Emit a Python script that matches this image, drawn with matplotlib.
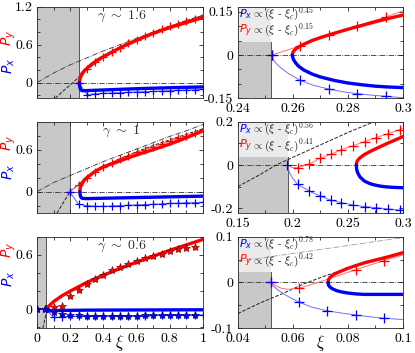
import matplotlib.pyplot as plt
import numpy as np

plt.rcParams['font.family'] = 'serif'
plt.rcParams['font.serif'] = ['cmr10']
plt.rcParams['mathtext.fontset'] = 'cm'
plt.rcParams['axes.unicode_minus'] = False

# ---- data ----
xi_c = [0.252, 0.196, 0.052]
gamma = ['1.6', '1', '0.6']
exps = [('0.45', '0.15'), ('0.56', '0.41'), ('0.78', '0.42')]

# left column: gamma ~ 1.6
l1_red_x = [0.255, 0.258, 0.262, 0.27, 0.29, 0.32, 0.36, 0.4, 0.5, 0.6, 0.7, 0.8, 0.9, 1.0]
l1_red_y = [0.0, 0.05, 0.09, 0.14, 0.2, 0.27, 0.35, 0.41, 0.55, 0.67, 0.78, 0.87, 0.95, 1.03]
l1_blue_x = [0.255, 0.257, 0.262, 0.27, 0.3, 0.4, 0.5, 0.6, 0.7, 0.8, 0.9, 1.0]
l1_blue_y = [0.0, -0.06, -0.11, -0.13, -0.128, -0.118, -0.108, -0.098, -0.09, -0.082, -0.076, -0.07]
l1_xs = [0.252, 0.3, 0.35, 0.4, 0.45, 0.5, 0.55, 0.6, 0.65, 0.7, 0.75, 0.8, 0.85, 0.9, 0.95, 1.0]
l1_rx_y = [0.0, 0.22, 0.32, 0.41, 0.48, 0.55, 0.62, 0.68, 0.74, 0.79, 0.84, 0.89, 0.93, 0.97, 1.01, 1.05]
l1_bx_y = [0.0, -0.19, -0.18, -0.17, -0.165, -0.16, -0.155, -0.15, -0.145, -0.14, -0.135,
           -0.13, -0.125, -0.12, -0.115, -0.11]
l1_dd_x = [0.0, 0.1, 0.2, 0.3, 0.4, 0.5, 0.6, 0.7, 0.8, 0.9, 1.0]
l1_dd_y = [0.0, 0.15, 0.28, 0.39, 0.5, 0.6, 0.7, 0.8, 0.89, 0.98, 1.07]
l1_da_x = [0.11, 0.15, 0.2, 0.25, 0.3, 0.35, 0.4, 0.5, 0.6, 0.7, 0.8, 0.9, 1.0]
l1_da_y = [-0.25, -0.15, -0.04, 0.08, 0.2, 0.3, 0.39, 0.55, 0.68, 0.79, 0.89, 0.98, 1.06]

# left column: gamma ~ 1
l2_red_x = [0.258, 0.26, 0.265, 0.28, 0.3, 0.35, 0.4, 0.5, 0.6, 0.7, 0.8, 0.9, 1.0]
l2_red_y = [0.0, 0.05, 0.09, 0.15, 0.2, 0.29, 0.355, 0.44, 0.525, 0.6, 0.68, 0.77, 0.87]
l2_blue_x = [0.258, 0.26, 0.265, 0.275, 0.3, 0.4, 0.6, 0.8, 1.0]
l2_blue_y = [0.0, -0.05, -0.085, -0.097, -0.1, -0.095, -0.085, -0.075, -0.065]
l2_xs = [0.196, 0.25, 0.3, 0.35, 0.4, 0.45, 0.5, 0.55, 0.6, 0.65, 0.7, 0.75, 0.8, 0.85, 0.9, 0.95, 1.0]
l2_rx_y = [0.0, 0.09, 0.2, 0.28, 0.35, 0.41, 0.46, 0.51, 0.56, 0.6, 0.64, 0.68, 0.72, 0.76, 0.8, 0.84, 0.88]
l2_bx_y = [0.0, -0.18, -0.2, -0.21, -0.21, -0.205, -0.2, -0.195, -0.19, -0.185, -0.18, -0.175,
           -0.17, -0.165, -0.16, -0.158, -0.155]
l2_dd_x = [0.0, 0.1, 0.2, 0.3, 0.4, 0.5, 0.6, 0.7, 0.8, 0.9, 1.0]
l2_dd_y = [0.0, 0.13, 0.23, 0.33, 0.43, 0.52, 0.61, 0.7, 0.79, 0.87, 0.96]
l2_da_x = [0.12, 0.16, 0.2, 0.26, 0.31, 0.4, 0.5, 0.6, 0.7, 0.8, 0.9, 1.0]
l2_da_y = [-0.31, -0.15, 0.0, 0.13, 0.22, 0.36, 0.47, 0.57, 0.66, 0.74, 0.82, 0.9]

# left column: gamma ~ 0.6
l3_red_x = [0.06, 0.065, 0.08, 0.1, 0.15, 0.2, 0.3, 0.4, 0.5, 0.6, 0.7, 0.8, 0.9, 1.0]
l3_red_y = [0.0, 0.025, 0.05, 0.084, 0.148, 0.2, 0.296, 0.376, 0.45, 0.52, 0.585, 0.65, 0.71, 0.77]
l3_blue_x = [0.06, 0.065, 0.08, 0.1, 0.3, 0.6, 1.0]
l3_blue_y = [0.0, -0.02, -0.018, -0.014, -0.01, -0.008, -0.006]
l3_star_x = [0.0, 0.05, 0.1, 0.15, 0.2, 0.25, 0.3, 0.35, 0.4, 0.45, 0.5, 0.55, 0.6, 0.65, 0.7,
             0.75, 0.8, 0.85, 0.9, 0.95]
l3_rstar_y = [0.0, 0.0, 0.02, 0.04, 0.15, 0.21, 0.28, 0.33, 0.38, 0.43, 0.47, 0.5, 0.53, 0.56,
              0.59, 0.61, 0.64, 0.66, 0.67, 0.69]
l3_bstar_y = [0.0, 0.0, -0.03, -0.055, -0.06, -0.065, -0.07, -0.07, -0.07, -0.072, -0.07, -0.07,
              -0.07, -0.068, -0.068, -0.066, -0.066, -0.064, -0.064, -0.063]
l3_xs = [0.052, 0.1, 0.15, 0.2, 0.25, 0.3, 0.35, 0.4, 0.45, 0.5, 0.55, 0.6, 0.65, 0.7, 0.75, 0.8,
         0.85, 0.9, 0.95, 1.0]
l3_bx_y = [0.0, -0.09, -0.085, -0.08, -0.078, -0.076, -0.075, -0.074, -0.073, -0.072, -0.071,
           -0.07, -0.069, -0.068, -0.067, -0.066, -0.065, -0.064, -0.063, -0.062]
l3_da_x = [0.035, 0.052, 0.07, 0.09, 0.12]
l3_da_y = [-0.21, -0.07, 0.02, 0.07, 0.12]

# right column: zoom near xi_c, gamma ~ 1.6
r1_x = [0.2598, 0.2602, 0.261, 0.262, 0.264, 0.267, 0.27, 0.275, 0.28, 0.285, 0.29, 0.295, 0.3]
r1_red_y = [0.0, 0.012, 0.02, 0.027, 0.037, 0.05, 0.06, 0.075, 0.089, 0.102, 0.115, 0.127, 0.138]
r1_blue_y = [0.0, -0.015, -0.027, -0.038, -0.052, -0.066, -0.076, -0.088, -0.097, -0.103,
             -0.108, -0.111, -0.113]
r1_rx_x = [0.2525, 0.2628, 0.2731, 0.2834, 0.2937, 0.3]
r1_rx_y = [0.0, 0.032, 0.068, 0.101, 0.131, 0.153]
r1_bx_x = [0.2525, 0.253, 0.254, 0.256, 0.259, 0.2628, 0.2675, 0.2731, 0.278, 0.2834, 0.2885,
           0.2937, 0.3]
r1_bx_y = [0.0, -0.018, -0.03, -0.047, -0.068, -0.088, -0.105, -0.118, -0.127, -0.134, -0.139,
           -0.143, -0.148]

# right column: gamma ~ 1
r2_x = [0.2578, 0.258, 0.259, 0.261, 0.265, 0.27, 0.275, 0.28, 0.285, 0.29, 0.295, 0.3]
r2_red_y = [0.0, 0.012, 0.022, 0.033, 0.048, 0.062, 0.074, 0.086, 0.098, 0.109, 0.12, 0.131]
r2_blue_y = [0.0, -0.02, -0.037, -0.055, -0.074, -0.086, -0.093, -0.098, -0.101, -0.103,
             -0.104, -0.105]
r2_rx_x = [0.195, 0.199, 0.2043, 0.2149, 0.2246, 0.2345, 0.2442, 0.2547, 0.2653, 0.2759,
           0.2864, 0.297, 0.3]
r2_rx_y = [0.0, -0.012, -0.012, 0.003, 0.031, 0.049, 0.071, 0.089, 0.108, 0.126, 0.145, 0.163, 0.17]
r2_bx_x = [0.195, 0.197, 0.2, 0.2043, 0.2149, 0.2246, 0.2345, 0.2442, 0.2547, 0.2653, 0.2759,
           0.2864, 0.297, 0.3]
r2_bx_y = [0.0, -0.035, -0.062, -0.089, -0.12, -0.143, -0.162, -0.174, -0.185, -0.192, -0.197,
           -0.203, -0.208, -0.209]
r2_da_x = [0.15, 0.17, 0.185, 0.2, 0.226, 0.25, 0.274]
r2_da_y = [-0.1, -0.045, 0.0, 0.035, 0.095, 0.15, 0.2]

# right column: gamma ~ 0.6
r3_x = [0.0728, 0.073, 0.0735, 0.0745, 0.076, 0.078, 0.08, 0.083, 0.086, 0.09, 0.094, 0.097, 0.1]
r3_red_y = [0.0, 0.006, 0.011, 0.016, 0.021, 0.026, 0.031, 0.037, 0.043, 0.049, 0.055, 0.06, 0.065]
r3_blue_y = [0.0, -0.006, -0.01, -0.014, -0.018, -0.021, -0.023, -0.025, -0.026, -0.026, -0.026,
             -0.026, -0.026]
r3_rx_x = [0.052, 0.054, 0.056, 0.0585, 0.0623, 0.066, 0.0726, 0.078, 0.0829, 0.088, 0.0932, 0.1]
r3_rx_y = [0.0, -0.008, -0.013, -0.015, -0.012, -0.006, 0.007, 0.018, 0.028, 0.038, 0.048, 0.06]
r3_bx_x = [0.052, 0.053, 0.0545, 0.0565, 0.059, 0.0623, 0.067, 0.0726, 0.078, 0.0829, 0.088,
           0.0932, 0.1]
r3_bx_y = [0.0, -0.008, -0.016, -0.024, -0.033, -0.043, -0.054, -0.062, -0.067, -0.071, -0.075,
           -0.078, -0.081]
r3_da_x = [0.04, 0.048, 0.056, 0.064, 0.072, 0.08, 0.09, 0.1]
r3_da_y = [-0.068, -0.045, -0.025, -0.003, 0.015, 0.031, 0.048, 0.064]
r3_dd_x = [0.04, 0.07, 0.1]
r3_dd_y = [0.046, 0.072, 0.098]

RED = '#ff0000'
BLUE = '#0000ff'
GREY = '#c8c8c8'
LIGHT = '#ebebeb'
FRAME = '#262626'


def style(ax, xlim, ylim, xt, xtl, yt, ytl, xminor, yminor):
    ax.set_xlim(xlim)
    ax.set_ylim(ylim)
    ax.set_xticks(xt)
    ax.set_xticklabels(xtl)
    ax.set_yticks(yt)
    ax.set_yticklabels(ytl)
    ax.set_xticks(xminor, minor=True)
    ax.set_yticks(yminor, minor=True)
    ax.tick_params(which='both', direction='in', top=True, right=True, color=FRAME,
                   labelsize=10, width=0.6)
    ax.tick_params(which='major', length=3)
    ax.tick_params(which='minor', length=2)
    ax.tick_params(axis='x', pad=3)
    ax.tick_params(axis='y', pad=3)
    for s in ax.spines.values():
        s.set_color(FRAME)
        s.set_linewidth(0.6)


fig = plt.figure(figsize=(4.15, 3.53), dpi=100)
bottoms = [0.7215, 0.3958, 0.07]
lefts = [0.0892, 0.5728]
w, h = 0.400, 0.2595

# ---------------- left column ----------------
left_data = [
    (l1_red_x, l1_red_y, l1_blue_x, l1_blue_y, l1_xs, l1_rx_y, l1_bx_y, l1_dd_x, l1_dd_y, l1_da_x, l1_da_y),
    (l2_red_x, l2_red_y, l2_blue_x, l2_blue_y, l2_xs, l2_rx_y, l2_bx_y, l2_dd_x, l2_dd_y, l2_da_x, l2_da_y),
]
left_ylims = [(-0.25, 1.2), (-0.31, 1.0), (-0.21, 0.8)]
left_yt = [([0, 0.6, 1.2], ['0', '0.6', '1.2']), ([0, 0.6], ['0', '0.6']), ([0, 0.6], ['0', '0.6'])]
label_pos = [(0.35, 0.66), (0.45, 0.77), (0.54, 0.86)]

for i in range(3):
    ax = fig.add_axes([lefts[0], bottoms[i], w, h])
    ax.axvspan(0, xi_c[i], color=GREY, zorder=0, lw=0)
    ax.axvline(xi_c[i], color='#555555', lw=0.7, zorder=1)
    ax.axhline(0, color='#333333', ls='-.', lw=0.6, zorder=1)
    if i < 2:
        (rx, ry, bx, by, xs, rxy, bxy, ddx, ddy, dax, day) = left_data[i]
        ax.plot(ddx, ddy, color='#333333', ls='-.', lw=0.6, zorder=2)
        ax.plot(dax, day, color='#222222', ls='--', lw=0.7, zorder=2)
        ax.plot(xs, rxy, color='#ff6060', lw=0.7, marker='+', ms=6, mec=RED, mew=0.9, zorder=3)
        ax.plot(xs, bxy, color='#6060ff', lw=0.7, marker='+', ms=6, mec=BLUE, mew=0.9, zorder=3)
        ax.plot(rx, ry, color=RED, lw=2.4, zorder=4, solid_capstyle='round')
        ax.plot(bx, by, color=BLUE, lw=2.4, zorder=4, solid_capstyle='round')
        xtl = [''] * 6
    else:
        ax.plot(l3_da_x, l3_da_y, color='#222222', ls='--', lw=0.7, zorder=2)
        ax.plot(l3_xs, l3_bx_y, color='#6060ff', lw=0.7, marker='+', ms=6, mec=BLUE, mew=0.9, zorder=3)
        ax.plot(l3_red_x, l3_red_y, color=RED, lw=2.4, zorder=4, solid_capstyle='round')
        ax.plot(l3_blue_x, l3_blue_y, color=BLUE, lw=2.4, zorder=4, solid_capstyle='round')
        ax.plot(l3_star_x, l3_rstar_y, ls='none', marker='*', ms=6, mfc=RED, mec='#8b0000',
                mew=0.5, zorder=5)
        ax.plot(l3_star_x, l3_bstar_y, ls='none', marker='*', ms=6, mfc=BLUE, mec='#00008b',
                mew=0.5, zorder=5)
        xtl = ['0', '0.2', '0.4', '0.6', '0.8', '1']
        ax.text(0.5, -0.16, r'$\xi$', transform=ax.transAxes, ha='center', va='center', fontsize=12)
    lo, hi = left_ylims[i]
    style(ax, (0, 1), left_ylims[i], [0, 0.2, 0.4, 0.6, 0.8, 1.0], xtl,
          left_yt[i][0], left_yt[i][1], np.arange(0, 1.01, 0.1),
          [v for v in np.arange(-0.2, 1.21, 0.2) if lo <= v <= hi])
    ax.text(0.51, 0.89, r'$\gamma\ \sim\ ' + gamma[i] + '$', transform=ax.transAxes,
            ha='center', va='center', fontsize=10, color='#333333')
    ax.text(-0.17, label_pos[i][0], r'$P_x$', transform=ax.transAxes, rotation=90, ha='center',
            va='center', fontsize=10, color=BLUE, math_fontfamily='dejavusans')
    ax.text(-0.17, label_pos[i][1], r'$P_y$', transform=ax.transAxes, rotation=90, ha='center',
            va='center', fontsize=10, color=RED, math_fontfamily='dejavusans')

# ---------------- right column ----------------
right_cfg = [
    dict(xlim=(0.24, 0.3), ylim=(-0.15, 0.167), xt=[0.24, 0.26, 0.28, 0.3],
         xtl=['0.24', '0.26', '0.28', '0.3'], yt=[-0.15, 0, 0.15], ytl=['-0.15', '0', '0.15'],
         xm=np.arange(0.24, 0.301, 0.01), ym=np.arange(-0.15, 0.16, 0.05),
         x=r1_x, ry=r1_red_y, by=r1_blue_y, rxx=r1_rx_x, rxy=r1_rx_y, bxx=r1_bx_x, bxy=r1_bx_y,
         rmk=[0, 1, 2, 3, 4], bmk=[0, 5, 7, 9, 11]),
    dict(xlim=(0.15, 0.3), ylim=(-0.223, 0.2), xt=[0.15, 0.2, 0.25, 0.3],
         xtl=['0.15', '0.2', '0.25', '0.3'], yt=[-0.2, 0, 0.2], ytl=['-0.2', '0', '0.2'],
         xm=np.arange(0.15, 0.301, 0.025), ym=np.arange(-0.2, 0.21, 0.1),
         x=r2_x, ry=r2_red_y, by=r2_blue_y, rxx=r2_rx_x, rxy=r2_rx_y, bxx=r2_bx_x, bxy=r2_bx_y,
         rmk=list(range(2, 12)), bmk=[0] + list(range(3, 13))),
    dict(xlim=(0.04, 0.1), ylim=(-0.1, 0.1), xt=[0.04, 0.06, 0.08, 0.1],
         xtl=['0.04', '0.06', '0.08', '0.1'], yt=[-0.1, 0, 0.1], ytl=['-0.1', '0', '0.1'],
         xm=np.arange(0.04, 0.101, 0.01), ym=np.arange(-0.1, 0.11, 0.05),
         x=r3_x, ry=r3_red_y, by=r3_blue_y, rxx=r3_rx_x, rxy=r3_rx_y, bxx=r3_bx_x, bxy=r3_bx_y,
         rmk=[0, 4, 8, 10], bmk=[0, 5, 7, 9, 11]),
]

for i, c in enumerate(right_cfg):
    ax = fig.add_axes([lefts[1], bottoms[i], 0.398, h])
    box = 0.615
    ax.axvspan(c['xlim'][0], xi_c[i], ymin=0, ymax=box, color=GREY, lw=0, zorder=0)
    ax.axvspan(c['xlim'][0], xi_c[i], ymin=box, ymax=1, color=LIGHT, lw=0, zorder=0)
    ax.axvline(xi_c[i], ymin=0, ymax=box, color='#555555', lw=0.7, zorder=1)
    ax.axhline(0, color='#333333', ls='-.', lw=0.6, zorder=1)
    if i == 1:
        ax.plot(r2_da_x, r2_da_y, color='#222222', ls='--', lw=0.7, zorder=2)
    if i == 2:
        ax.plot(r3_da_x, r3_da_y, color='#222222', ls='--', lw=0.7, zorder=2)
        ax.plot(r3_dd_x, r3_dd_y, color='#999999', ls='-.', lw=0.6, zorder=2)
    ax.plot(c['rxx'], c['rxy'], color='#ff7070', lw=0.7, zorder=3)
    ax.plot(c['bxx'], c['bxy'], color='#7070ff', lw=0.7, zorder=3)
    ax.plot(c['rxx'], c['rxy'], ls='none', marker='+', ms=7, mec=RED, mew=0.9,
            markevery=c['rmk'], zorder=3)
    ax.plot(c['bxx'], c['bxy'], ls='none', marker='+', ms=7, mec=BLUE, mew=0.9,
            markevery=c['bmk'], zorder=3)
    ax.plot(c['x'], c['ry'], color=RED, lw=2.4, zorder=4, solid_capstyle='round')
    ax.plot(c['x'], c['by'], color=BLUE, lw=2.4, zorder=4, solid_capstyle='round')
    style(ax, c['xlim'], c['ylim'], c['xt'], c['xtl'], c['yt'], c['ytl'], c['xm'], c['ym'])
    ax.text(0.01, 0.915, r'$P_x$', transform=ax.transAxes, ha='left', va='center',
            fontsize=8, color=BLUE, math_fontfamily='dejavusans', zorder=6)
    ax.text(0.085, 0.92, r'$\propto(\xi$ - $\xi_c)^{' + exps[i][0] + '}$', transform=ax.transAxes,
            ha='left', va='center', fontsize=8, color='#222222', zorder=6)
    ax.text(0.01, 0.735, r'$P_y$', transform=ax.transAxes, ha='left', va='center',
            fontsize=8, color=RED, math_fontfamily='dejavusans', zorder=6)
    ax.text(0.085, 0.74, r'$\propto(\xi$ - $\xi_c)^{' + exps[i][1] + '}$', transform=ax.transAxes,
            ha='left', va='center', fontsize=8, color='#222222', zorder=6)
    if i == 2:
        ax.text(0.5, -0.16, r'$\xi$', transform=ax.transAxes, ha='center', va='center', fontsize=12)

fig.savefig('out.png', dpi=100)
